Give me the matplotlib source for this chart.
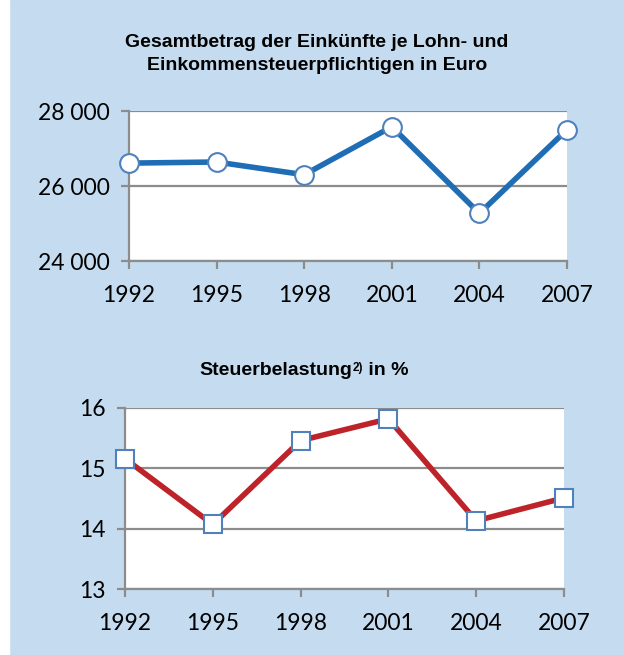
import matplotlib
matplotlib.use("Agg")
import matplotlib.pyplot as plt
from matplotlib.ticker import FuncFormatter

years = ["1992", "1995", "1998", "2001", "2004", "2007"]
income = [26610, 26640, 26300, 27580, 25270, 27500]
tax_burden = [15.16, 14.07, 15.46, 15.82, 14.13, 14.51]
income_ticks = [24000, 26000, 28000]
tax_ticks = [13, 14, 15, 16]

W, H = 624, 655
BG = "#C5DCF0"
GRID = "#8C8C8C"
BLUE = "#1F6DB5"
RED = "#BE2329"
EDGE = "#4F81BD"

fig = plt.figure(figsize=(W / 100, H / 100), dpi=100)
fig.patch.set_facecolor(BG)
fig.add_artist(plt.Rectangle((0, 0), 9 / W, 1, transform=fig.transFigure, color="white", zorder=0))

tick_font = ["Lato", "DejaVu Sans"]
title_font = ["Liberation Sans", "DejaVu Sans"]


def px_axes(left, top, right, bottom):
    return fig.add_axes([left / W, 1 - bottom / H, (right - left) / W, (bottom - top) / H])


def style(ax, ticks, fmt):
    x = list(range(len(years)))
    ax.set_facecolor("white")
    ax.set_xlim(0, len(years) - 1)
    ax.set_ylim(ticks[0], ticks[-1])
    ax.set_yticks(ticks)
    ax.yaxis.set_major_formatter(FuncFormatter(fmt))
    ax.set_xticks(x)
    ax.set_xticklabels(years)
    for s in ["top", "right"]:
        ax.spines[s].set_visible(False)
    for s in ["left", "bottom"]:
        ax.spines[s].set_color(GRID)
        ax.spines[s].set_linewidth(1.6)
    ax.yaxis.grid(True, color=GRID, linewidth=1.6)
    ax.set_axisbelow(True)
    ax.tick_params(axis="both", colors=GRID, length=6, width=1.6, labelcolor="black", labelsize=16.5)
    ax.tick_params(axis="y", pad=8)
    ax.tick_params(axis="x", pad=11)
    for lab in ax.get_xticklabels() + ax.get_yticklabels():
        lab.set_family(tick_font)


ax1 = px_axes(129, 111, 567, 261)
style(ax1, income_ticks, lambda v, p: f"{int(v):,}".replace(",", " "))
ax1.plot(range(len(years)), income, color=BLUE, linewidth=4.0, marker="o", markersize=13.5,
         markerfacecolor="white", markeredgecolor=EDGE, markeredgewidth=1.5, clip_on=False, zorder=5)

ax2 = px_axes(125, 408, 564, 589)
style(ax2, tax_ticks, lambda v, p: f"{int(v)}")
ax2.plot(range(len(years)), tax_burden, color=RED, linewidth=4.0, marker="s", markersize=13.5,
         markerfacecolor="white", markeredgecolor=EDGE, markeredgewidth=1.5, clip_on=False, zorder=5)

fig.text(317 / W, 1 - 54 / H, "Gesamtbetrag der Einkünfte je Lohn- und\nEinkommensteuerpflichtigen in Euro",
         ha="center", va="center", fontsize=14, fontweight="bold", family=title_font, linespacing=1.45)

t1 = fig.text(199 / W, 1 - 370 / H, "Steuerbelastung", ha="left", va="center",
              fontsize=14, fontweight="bold", family=title_font)
t2 = plt.annotate("2)", xy=(1, 1), xycoords=t1, xytext=(0.5, 0), textcoords="offset points",
                  ha="left", va="top", fontsize=8.5, fontweight="bold", family=title_font,
                  annotation_clip=False)
t3 = plt.annotate(" in %", xy=(1, 0), xycoords=(t2, t1), xytext=(0, 0), textcoords="offset points",
                  ha="left", va="bottom", fontsize=14, fontweight="bold", family=title_font,
                  annotation_clip=False)

fig.savefig("out.png", dpi=100, facecolor=fig.get_facecolor())
